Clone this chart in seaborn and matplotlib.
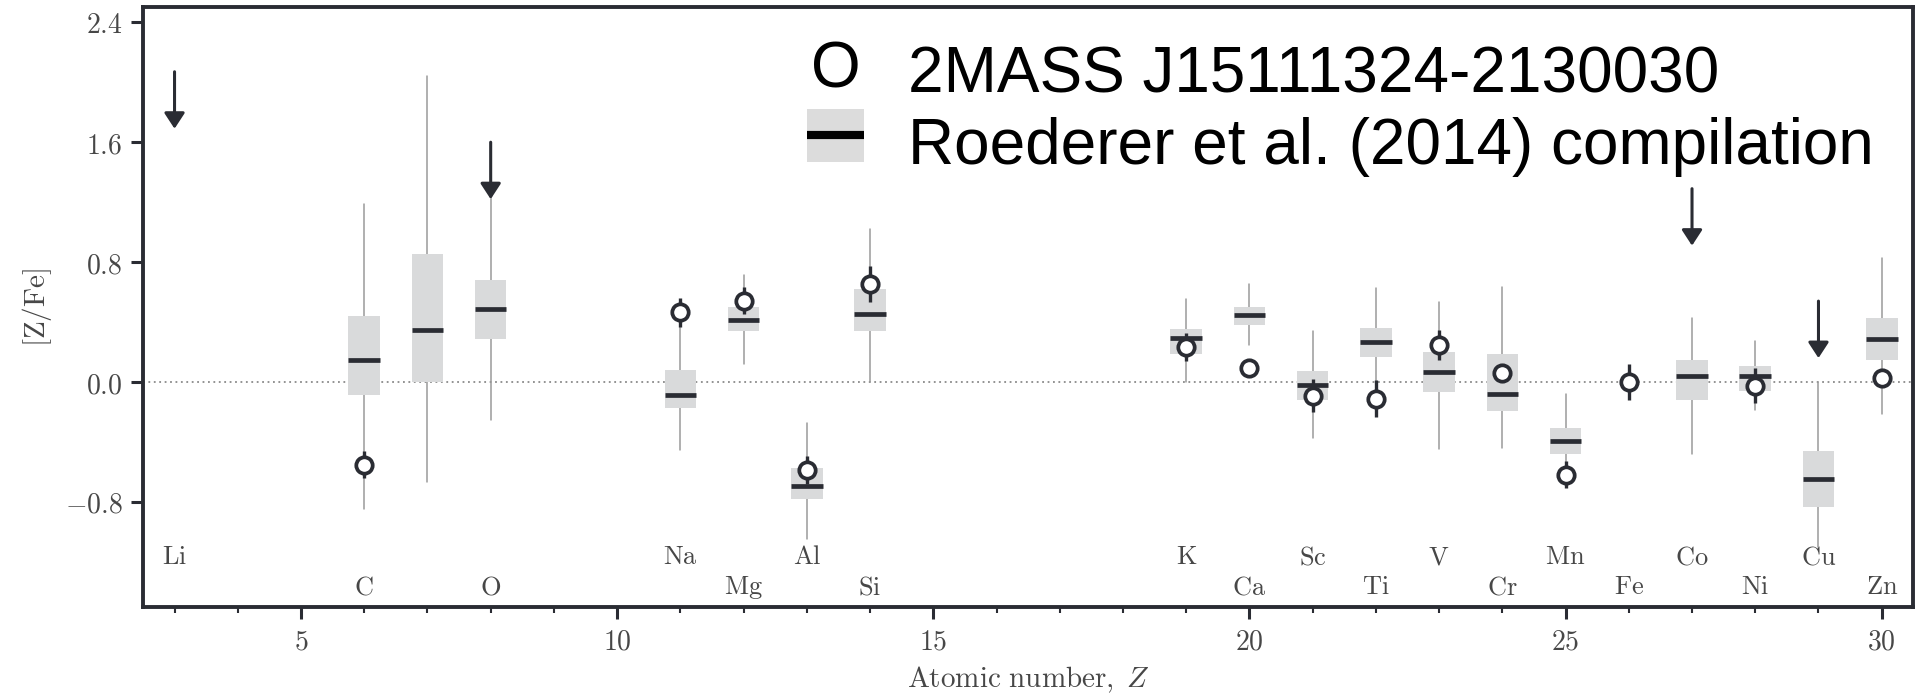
import matplotlib
matplotlib.use("Agg")
import numpy as np
import pandas as pd
import seaborn as sns
import matplotlib.pyplot as plt
from matplotlib.ticker import MultipleLocator, FixedLocator, FuncFormatter
from matplotlib.patches import Rectangle
from matplotlib.lines import Line2D
from matplotlib.legend_handler import HandlerBase
from matplotlib.text import Text

# ---------------- data ----------------
# Roederer et al. (2014) compilation: box summaries per element
box_z = [6, 7, 8, 11, 12, 13, 14, 19, 20, 21, 22, 23, 24, 25, 27, 28, 29, 30]
box_med = [0.15, 0.35, 0.49, -0.085, 0.415, -0.695, 0.455, 0.295, 0.447, -0.02,
           0.267, 0.07, -0.08, -0.39, 0.04, 0.04, -0.65, 0.29]
box_q1 = [-0.085, 0.0, 0.29, -0.172, 0.34, -0.78, 0.34, 0.186, 0.38, -0.12,
          0.168, -0.069, -0.19, -0.478, -0.12, -0.062, -0.833, 0.15]
box_q3 = [0.44, 0.853, 0.682, 0.082, 0.502, -0.57, 0.624, 0.352, 0.502, 0.074,
          0.361, 0.203, 0.19, -0.304, 0.145, 0.106, -0.46, 0.43]
box_wlo = [-0.845, -0.665, -0.25, -0.45, 0.122, -1.05, 0.0, 0.0, 0.244, -0.373,
           -0.1, -0.447, -0.442, -0.55, -0.483, -0.184, -1.1, -0.21]
box_whi = [1.19, 2.04, 1.23, 0.45, 0.716, -0.276, 1.02, 0.555, 0.656, 0.341,
           0.626, 0.536, 0.635, -0.078, 0.428, 0.276, 0.0, 0.825]

# 2MASS J15111324-2130030 abundances
star_z = [6, 11, 12, 13, 14, 19, 20, 21, 22, 23, 24, 25, 26, 28, 30]
star_val = [-0.55, 0.465, 0.543, -0.585, 0.654, 0.235, 0.094, -0.092, -0.11,
            0.244, 0.06, -0.619, 0.0, -0.023, 0.028]
star_err = [0.09, 0.095, 0.09, 0.095, 0.12, 0.095, 0.0, 0.11, 0.125, 0.1, 0.0,
            0.09, 0.12, 0.115, 0.0]

# upper limits
ul_z = [3, 8, 27, 29]
ul_val = [2.07, 1.60, 1.29, 0.54]

# element labels
label_z = [3, 6, 8, 11, 12, 13, 14, 19, 20, 21, 22, 23, 24, 25, 26, 27, 28, 29, 30]
label_names = ['Li', 'C', 'O', 'Na', 'Mg', 'Al', 'Si', 'K', 'Ca', 'Sc', 'Ti',
               'V', 'Cr', 'Mn', 'Fe', 'Co', 'Ni', 'Cu', 'Zn']

x_ticks = [5, 10, 15, 20, 25, 30]
y_ticks = [-0.8, 0.0, 0.8, 1.6, 2.4]

star_name = "2MASS J15111324-2130030"
comp_name = "Roederer et al. (2014) compilation"

# ---------------- style ----------------
DARK = "#2a2c33"
BOXGRAY = "#d9dadb"
WHISK = "#9a9a9a"
TXT = "#474747"

sns.set_style("ticks")
plt.rcParams.update({
    "font.family": ["DejaVu Sans"],
    "mathtext.fontset": "cm",
    "axes.edgecolor": DARK,
    "axes.linewidth": 2.8,
})

fig = plt.figure(figsize=(19.21, 6.96), dpi=100)
ax = fig.add_axes([0.0744, 0.128, 0.996 - 0.0744, 0.9895 - 0.128])

ax.set_xlim(2.5, 30.5)
ax.set_ylim(-1.5, 2.5)

# zero line
ax.axhline(0.0, color="#8a8a8a", ls=(0, (1, 2)), lw=1.3, zorder=1)

# boxes
stats = [dict(med=m, q1=a, q3=b, whislo=lo, whishi=hi, fliers=[])
         for m, a, b, lo, hi in zip(box_med, box_q1, box_q3, box_wlo, box_whi)]
ax.bxp(stats, positions=box_z, widths=0.5, patch_artist=True,
       showcaps=False, showfliers=False, manage_ticks=False,
       boxprops=dict(facecolor=BOXGRAY, edgecolor="none", linewidth=0, zorder=3),
       whiskerprops=dict(color=WHISK, linewidth=1.1, zorder=2),
       medianprops=dict(color=DARK, linewidth=3.4, zorder=4))

# star error bars + points
df = pd.DataFrame({"Z": star_z, "val": star_val, "err": star_err})
ax.errorbar(df["Z"], df["val"], yerr=df["err"], fmt="none", ecolor=DARK,
            elinewidth=2.4, capsize=0, zorder=5)
sns.scatterplot(data=df, x="Z", y="val", ax=ax, marker="o", s=11.8 ** 2,
                facecolor="white", edgecolor=DARK, linewidth=2.7, zorder=6,
                legend=False)

# upper limits
ARROW_LEN = 0.38
for z, v in zip(ul_z, ul_val):
    ax.annotate("", xy=(z, v - ARROW_LEN), xytext=(z, v),
                arrowprops=dict(arrowstyle="-|>,head_length=0.95,head_width=0.62",
                                mutation_scale=10, color=DARK, lw=2.2,
                                shrinkA=0, shrinkB=0), zorder=6)

# element labels
for z, name in zip(label_z, label_names):
    y = -1.17 if z % 2 == 1 else -1.37
    ax.text(z, y, rf"$\mathrm{{{name}}}$", ha="center", va="center",
            fontsize=19, color=TXT, zorder=7)

# ticks
ax.xaxis.set_major_locator(FixedLocator(x_ticks))
ax.xaxis.set_minor_locator(MultipleLocator(1))
ax.yaxis.set_major_locator(FixedLocator(y_ticks))
ax.xaxis.set_major_formatter(FuncFormatter(lambda v, p: rf"${v:.0f}$"))
ax.yaxis.set_major_formatter(FuncFormatter(lambda v, p: rf"${v:.1f}$"))
ax.tick_params(axis="both", which="major", direction="out", length=8.6,
               width=2.2, color=DARK, labelsize=20, labelcolor=TXT, pad=6)
ax.tick_params(axis="x", which="minor", direction="out", length=4.3,
               width=1.5, color=DARK)
ax.tick_params(top=False, right=False, which="both")
for s in ax.spines.values():
    s.set_visible(True)
    s.set_linewidth(2.8)
    s.set_color(DARK)

ax.set_xlabel(r"$\mathrm{Atomic\ number,}\;Z$", fontsize=21, color=TXT, labelpad=7)
ax.set_ylabel(r"$[\mathrm{Z/Fe}]$", fontsize=21, color=TXT, labelpad=8)


# legend handlers
class TextHandler(HandlerBase):
    def create_artists(self, legend, orig_handle, xdescent, ydescent, width,
                       height, fontsize, trans):
        t = Text(-xdescent + width / 2, -ydescent + height / 2, "O",
                 ha="center", va="center", fontsize=fontsize,
                 family="Liberation Sans", color="black", transform=trans)
        return [t]


class BoxHandler(HandlerBase):
    def create_artists(self, legend, orig_handle, xdescent, ydescent, width,
                       height, fontsize, trans):
        off = 0.1 * fontsize
        x0, y0 = -xdescent, -ydescent + off
        r = Rectangle((x0, y0), width, height, facecolor="#dcdcdc",
                      edgecolor="none", transform=trans)
        ln = Line2D([x0, x0 + width], [y0 + height / 2] * 2, color="black",
                    lw=5.9, solid_capstyle="butt", transform=trans)
        return [r, ln]


h_star = Line2D([], [], ls="none")
h_comp = Line2D([], [], ls="none")
fig.legend([h_star, h_comp], [star_name, comp_name],
           handler_map={h_star: TextHandler(), h_comp: BoxHandler()},
           loc="upper left", bbox_to_anchor=(806.7 / 1921, 1 - 44 / 696),
           frameon=False, borderpad=0, borderaxespad=0,
           prop={"family": "Liberation Sans", "size": 46},
           labelcolor="black",
           handlelength=0.9, handleheight=0.9, handletextpad=0.68,
           labelspacing=0.15)

fig.savefig("out.png", dpi=100)
